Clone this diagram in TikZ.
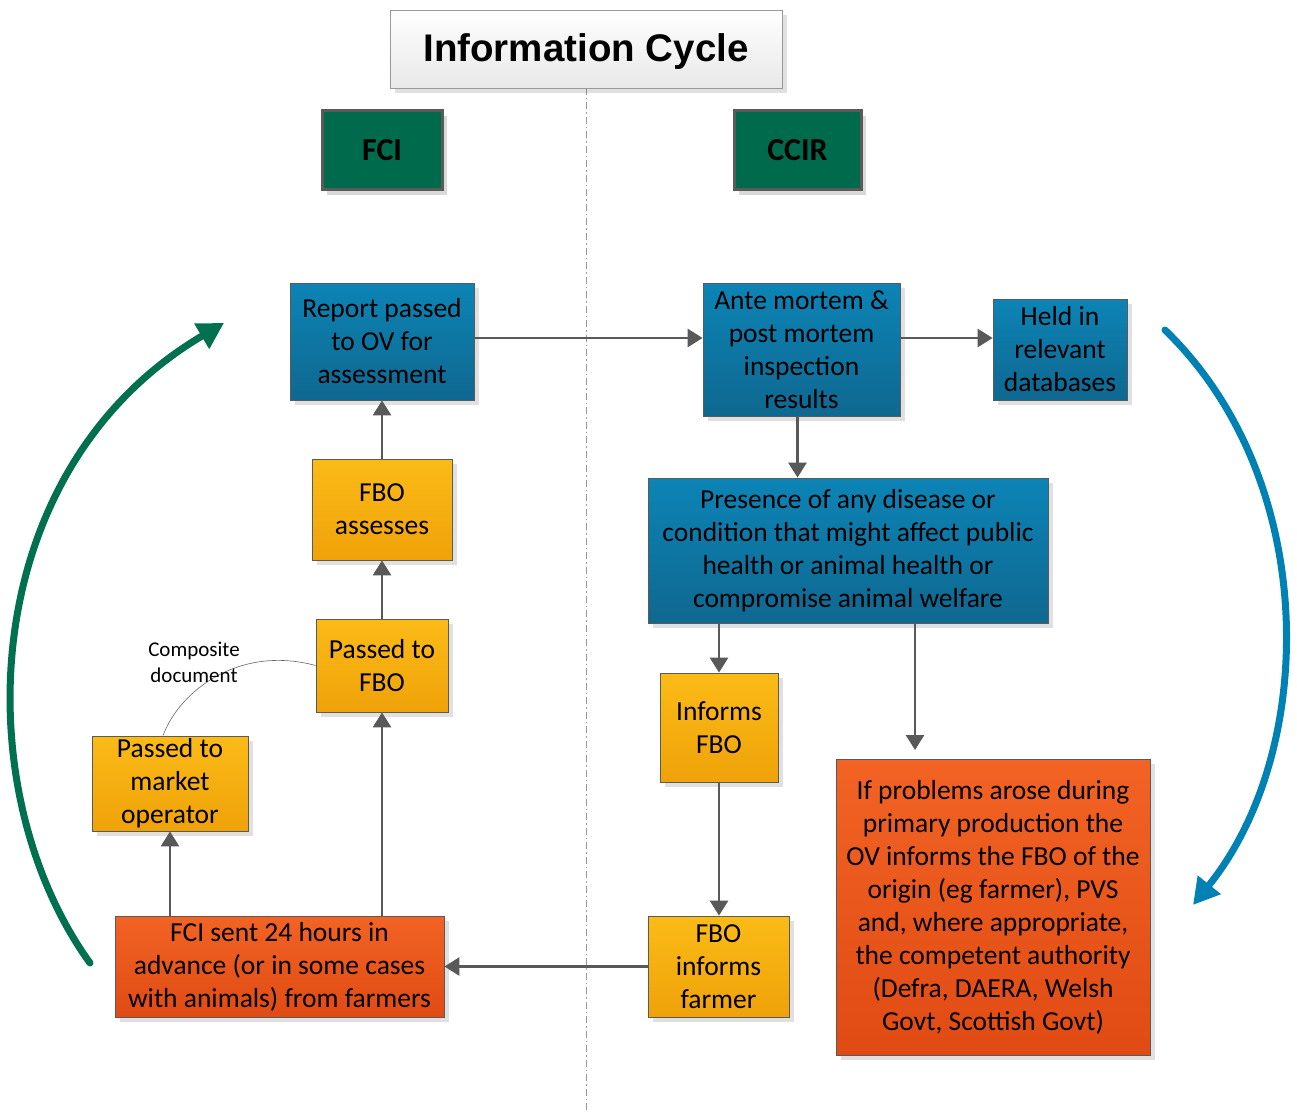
\documentclass[tikz,border=0pt]{standalone}
\usepackage{fontspec}
\setmainfont{Carlito}
\newfontfamily\titlefont{Liberation Sans}
\usetikzlibrary{arrows.meta,shadows}
\definecolor{blueT}{HTML}{0C84B6}
\definecolor{blueB}{HTML}{0F6890}
\definecolor{yelT}{HTML}{FBBB17}
\definecolor{yelB}{HTML}{EFA209}
\definecolor{orT}{HTML}{F26324}
\definecolor{orB}{HTML}{E04B14}
\definecolor{dgreen}{HTML}{006A4D}
\definecolor{boxline}{HTML}{5A5A5A}
\definecolor{arrowgray}{HTML}{595959}
\definecolor{cycgreen}{HTML}{00704F}
\definecolor{cycblue}{HTML}{0081B4}
\begin{document}
\begin{tikzpicture}[x=1pt,y=-1pt,
  box/.style={draw=boxline, line width=0.8pt, inner sep=0pt, align=center,
    font=\fontsize{27.5}{33}\selectfont,
    drop shadow={shadow xshift=5pt, shadow yshift=-5pt, fill=black, opacity=0.12}},
  bluebox/.style={box, top color=blueT, bottom color=blueB},
  yelbox/.style={box, top color=yelT, bottom color=yelB},
  orbox/.style={box, top color=orT, bottom color=orB},
  headbox/.style={draw=boxline, line width=3pt, fill=dgreen, inner sep=0pt,
    font=\fontsize{32}{38}\selectfont\bfseries,
    drop shadow={shadow xshift=5pt, shadow yshift=-5pt, fill=black, opacity=0.15}},
  conn/.style={draw=arrowgray, line width=2.8pt, -{Triangle[length=15pt,width=18pt]}},
  cycarrow/.style={line width=7pt, line cap=round, -{Triangle[length=26pt,width=28pt]}}
]
\useasboundingbox (0,0) rectangle (1297,1115);

% divider
\coordinate (dtop) at (586,88);
\coordinate (dbot) at (586,1110);
\draw[gray!80, line width=0.8pt, dash pattern=on 7pt off 3pt on 1.5pt off 3pt] (dtop) -- (dbot);

% title
\node[draw=black!40, line width=0.8pt, top color=white, bottom color=black!9,
  minimum width=392pt, minimum height=78pt, inner sep=0pt,
  text height=26pt, text depth=0pt,
  font=\titlefont\fontsize{38.5}{44}\selectfont\bfseries,
  drop shadow={shadow xshift=5pt, shadow yshift=-5pt, fill=black, opacity=0.12}]
  (title) at (586,49) {Information Cycle};

% headers
\node[headbox, minimum width=120pt, minimum height=79pt] (fci) at (382,150.5) {FCI};
\node[headbox, minimum width=127pt, minimum height=79pt] (ccir) at (797.5,150.5) {CCIR};

% boxes
\node[bluebox, minimum width=184pt, minimum height=117pt] (report) at (382,341.5)
  {Report passed\\to OV for\\assessment};
\node[bluebox, minimum width=197pt, minimum height=133pt] (ante) at (801.5,349.5)
  {Ante mortem \&\\post mortem\\inspection\\results};
\node[bluebox, minimum width=134pt, minimum height=101pt] (held) at (1060,349.5)
  {Held in\\relevant\\databases};
\node[yelbox, minimum width=140pt, minimum height=101pt] (assess) at (382,509.5)
  {FBO\\assesses};
\node[bluebox, minimum width=400pt, minimum height=145pt] (pres) at (848,550.5)
  {Presence of any disease or\\condition that might affect public\\health or animal health or\\compromise animal welfare};
\node[yelbox, minimum width=132pt, minimum height=93pt] (pfbo) at (382,665.5)
  {Passed to\\FBO};
\node[yelbox, minimum width=156pt, minimum height=95pt] (mkt) at (170,783.5)
  {Passed to\\market\\operator};
\node[yelbox, minimum width=118pt, minimum height=109pt] (inf) at (719,727.5)
  {Informs\\FBO};
\node[orbox, minimum width=314pt, minimum height=296pt] (prob) at (993,907)
  {If problems arose during\\primary production the\\OV informs the FBO of the\\origin (eg farmer), PVS\\and, where appropriate,\\the competent authority\\(Defra, DAERA, Welsh\\Govt, Scottish Govt)};
\node[orbox, minimum width=329pt, minimum height=101pt] (sent) at (279.5,966.5)
  {FCI sent 24 hours in\\advance (or in some cases\\with animals) from farmers};
\node[yelbox, minimum width=141pt, minimum height=101pt] (farmer) at (718.5,966.5)
  {FBO\\informs\\farmer};

% connectors
\draw[conn] ([yshift=3.5pt]report.east) -- ([yshift=3.5pt]report.east -| ante.west);
\draw[conn] ([yshift=3.5pt]ante.east |- report.east) -- ([yshift=3.5pt]held.west |- report.east);
\draw[conn] ([xshift=-4pt]ante.south) -- ([xshift=-4pt]ante.south |- pres.north);
\draw[conn] (assess.north) -- (report.south);
\draw[conn] (pfbo.north) -- (assess.south);
\draw[conn] (sent.north -| pfbo.south) -- (pfbo.south);
\draw[conn] (sent.north -| mkt.south) -- (mkt.south);
\draw[conn] (pres.south -| inf.north) -- (inf.north);
\coordinate (pend) at (915,750);
\draw[conn] (pres.south -| pend) -- (pend);
\draw[conn] (inf.south) -- (inf.south |- farmer.north);
\draw[conn] (farmer.west) -- (farmer.west -| sent.east);

% composite document
\draw[black!60, line width=0.6pt] ([xshift=-7pt]mkt.north) .. controls (180,690) and (240,645) .. (pfbo.west);
\node[align=center, inner sep=0pt, font=\fontsize{21}{26}\selectfont] (comp) at (194,662) {Composite\\document};

% cycle arrows
\coordinate (gs) at (90,963);
\coordinate (ge) at (224,323);
\draw[cycarrow, draw=cycgreen] (gs) .. controls (-35,790) and (-25,470) .. (ge);
\coordinate (bs) at (1165,330);
\coordinate (be) at (1193,905);
\draw[cycarrow, draw=cycblue] (bs) .. controls (1320,480) and (1318,750) .. (be);
\end{tikzpicture}
\end{document}
